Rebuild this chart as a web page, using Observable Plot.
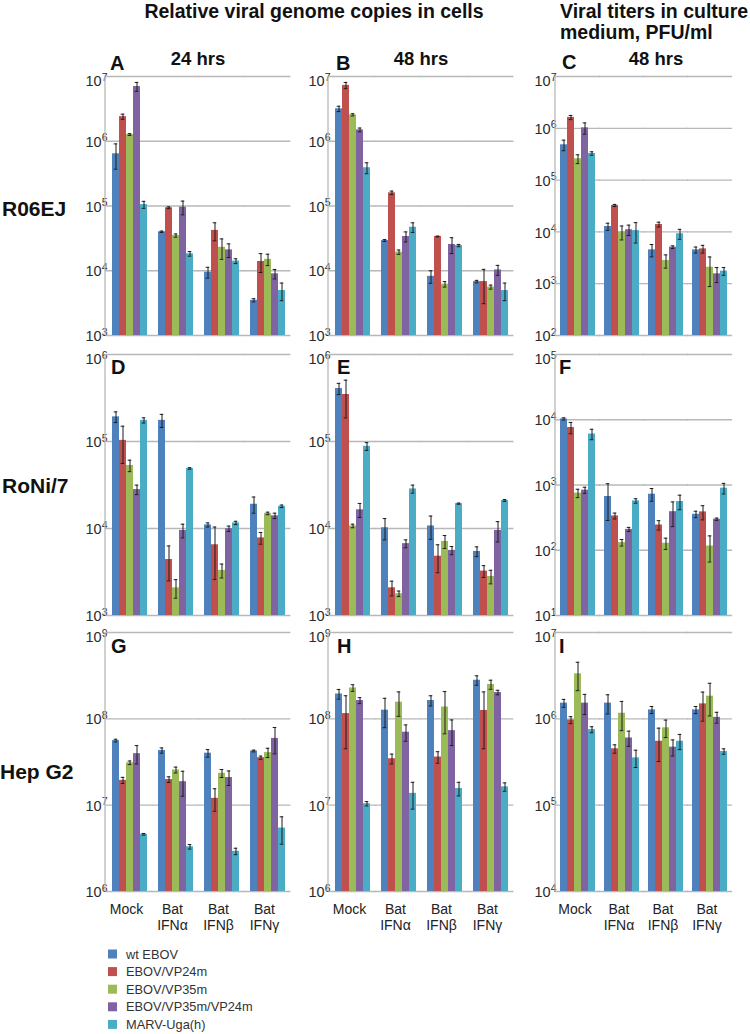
<!DOCTYPE html>
<html>
<head>
<meta charset="utf-8">
<script src="https://cdn.jsdelivr.net/npm/d3@7"></script>
<script src="https://cdn.jsdelivr.net/npm/@observablehq/plot@0.6"></script>
<style>
  body { margin: 0; background: #fff; }
  #root { position: relative; width: 750px; height: 1034px; overflow: hidden; font-family: "Liberation Sans", Arial, sans-serif; }
  #root > svg.anno { position: absolute; left: 0; top: 0; }
  .panel { position: absolute; }
</style>
</head>
<body>
<div id="root"></div>
<script>
// ---------- data ----------
const groups = ["Mock", "Bat IFNα", "Bat IFNβ", "Bat IFNγ"];
const series = ["wt EBOV", "EBOV/VP24m", "EBOV/VP35m", "EBOV/VP35m/VP24m", "MARV-Uga(h)"];
const colors = ["#4F81BD", "#C0504D", "#9BBB59", "#8064A2", "#4BACC6"];
const rowLabels = ["R06EJ", "RoNi/7", "Hep G2"];

// each row of a panel = one group; columns = series order
const valuesA = [[6.4e5, 2.4e6, 1.27e6, 7.0e6, 1.05e5], [4.0e4, 9.4e4, 3.5e4, 9.6e4, 1.83e4], [9.5e3, 4.2e4, 2.3e4, 2.1e4, 1.41e4], [3.5e3, 1.39e4, 1.5e4, 8.97e3, 4.95e3]];
const errorsA = [[2.7e5, 2.2e5, 4e4, 1.1e6, 1.3e4], [1e3, 3e3, 2e3, 2.3e4, 1.5e3], [1.8e3, 1.3e4, 8e3, 5e3, 1.2e3], [2e2, 4.5e3, 3e3, 1.5e3, 1.5e3]];
const valuesB = [[3.17e6, 7.3e6, 2.56e6, 1.5e6, 3.9e5], [2.93e4, 1.6e5, 1.94e4, 3.38e4, 4.7e4], [8.2e3, 3.38e4, 6.2e3, 2.54e4, 2.45e4], [6.8e3, 6.8e3, 5.6e3, 1.03e4, 4.95e3]];
const errorsB = [[3e5, 8e5, 1e5, 1e5, 7.5e4], [1e3, 1e4, 1.5e3, 6e3, 8e3], [1.8e3, 5e2, 6e2, 7e3, 1e3], [3e2, 3.7e3, 4e2, 1.8e3, 1.5e3]];
const valuesC = [[4.8e5, 1.62e6, 2.58e5, 1.02e6, 3.27e5], [1.27e4, 3.24e4, 1.0e4, 1.1e4, 1.06e4], [4.5e3, 1.39e4, 2.8e3, 5.07e3, 9.2e3], [4.5e3, 4.7e3, 2.08e3, 1.55e3, 1.75e3]];
const errorsC = [[1.1e5, 1.5e5, 5e4, 2.5e5, 2.5e4], [2e3, 1.5e3, 3e3, 2.5e3, 4.5e3], [1.2e3, 1.5e3, 8e2, 3e2, 2e3], [6e2, 8e2, 1.2e3, 5e2, 3e2]];
const valuesD = [[1.92e5, 1.03e5, 5.3e4, 2.8e4, 1.75e5], [1.75e5, 4.4e3, 2.08e3, 9.5e3, 4.9e4], [1.1e4, 6.5e3, 3.3e3, 9.95e3, 1.16e4], [1.9e4, 7.8e3, 1.49e4, 1.4e4, 1.8e4]];
const errorsD = [[2.7e4, 4.7e4, 8e3, 3.5e3, 1.2e4], [3e4, 1.9e3, 5e2, 1.7e3, 1e3], [6e2, 3.9e3, 6e2, 7e2, 5e2], [4e3, 1.2e3, 5e2, 1e3, 6e2]];
const valuesE = [[4.06e5, 3.47e5, 1.07e4, 1.64e4, 8.8e4], [1.02e4, 2.08e3, 1.78e3, 6.7e3, 2.85e4], [1.07e4, 4.8e3, 7.1e3, 5.6e3, 1.93e4], [5.45e3, 3.24e3, 2.81e3, 9.5e3, 2.1e4]];
const errorsE = [[6e4, 1.6e5, 5e2, 3e3, 9e3], [2.8e3, 4e2, 1.3e2, 7e2, 3e3], [3.2e3, 1.7e3, 1.2e3, 6e2, 3e2], [7e2, 5e2, 5e2, 2.5e3, 5e2]];
const valuesF = [[1.03e4, 7.6e3, 750, 834, 6.04e3], [666, 336, 131, 209, 571], [723, 244, 128, 390, 558], [356, 387, 116, 299, 894]];
const errorsF = [[4e2, 1.5e3, 110, 90, 1.1e3], [380, 35, 15, 15, 45], [160, 40, 25, 160, 140], [40, 95, 50, 12, 165]];
const valuesG = [[5.6e7, 1.94e7, 3.1e7, 3.95e7, 4.6e6], [4.3e7, 1.98e7, 2.56e7, 1.87e7, 3.3e6], [4.0e7, 1.2e7, 2.34e7, 2.09e7, 2.92e6], [4.24e7, 3.55e7, 4.06e7, 5.93e7, 5.43e6]];
const errorsG = [[2e6, 1.6e6, 1.5e6, 9.5e6, 1e5], [3e6, 1.5e6, 2e6, 6e6, 2e5], [4e6, 3.5e6, 2.5e6, 4e6, 2.5e5], [1e6, 1.5e6, 5e6, 2e7, 1.9e6]];
const valuesH = [[1.94e8, 1.15e8, 2.28e8, 1.63e8, 1.04e7], [1.26e8, 3.45e7, 1.56e8, 7.0e7, 1.37e7], [1.63e8, 3.61e7, 1.37e8, 7.3e7, 1.56e7], [2.8e8, 1.25e8, 2.5e8, 2.02e8, 1.63e7]];
const errorsH = [[2.5e7, 7e7, 2e7, 1.3e7, 6e5], [4.7e7, 4.5e6, 4.9e7, 1.5e7, 4.7e6], [2.2e7, 5.5e6, 7e7, 2.4e7, 2.8e6], [3.5e7, 8e7, 3e7, 1.2e7, 1.8e6]];
const valuesI = [[1.52e6, 9.7e5, 3.32e6, 1.52e6, 7.5e5], [1.52e6, 4.5e5, 1.16e6, 6.0e5, 3.53e5], [1.27e6, 5.5e5, 7.87e5, 4.7e5, 5.5e5], [1.27e6, 1.49e6, 1.83e6, 1.04e6, 4.19e5]];
const errorsI = [[1.6e5, 9e4, 1.2e6, 4e5, 6e4], [3.8e5, 5e4, 4.3e5, 1.2e5, 8e4], [1.2e5, 2.3e5, 1.8e5, 1e5, 1.1e5], [1.2e5, 5.5e5, 7.5e5, 1.5e5, 3e4]];

// y-axis decade ranges (exponents) per panel
const expsA = [3, 7], expsB = [3, 7], expsC = [2, 7];
const expsD = [3, 6], expsE = [3, 6], expsF = [1, 5];
const expsG = [6, 9], expsH = [6, 9], expsI = [4, 7];

// ---------- layout ----------
const FONT = '"Liberation Sans", Arial, sans-serif';
const colX = [105, 328, 555];
const colW = [187, 187, 176];
const rowY = [76, 354, 632];
const rowH = [259, 261, 259];
const GRID = "#b8b8b8";

const panels = [
  {id: "A", vals: valuesA, errs: errorsA, exps: expsA, col: 0, row: 0},
  {id: "B", vals: valuesB, errs: errorsB, exps: expsB, col: 1, row: 0},
  {id: "C", vals: valuesC, errs: errorsC, exps: expsC, col: 2, row: 0},
  {id: "D", vals: valuesD, errs: errorsD, exps: expsD, col: 0, row: 1},
  {id: "E", vals: valuesE, errs: errorsE, exps: expsE, col: 1, row: 1},
  {id: "F", vals: valuesF, errs: errorsF, exps: expsF, col: 2, row: 1},
  {id: "G", vals: valuesG, errs: errorsG, exps: expsG, col: 0, row: 2},
  {id: "H", vals: valuesH, errs: errorsH, exps: expsH, col: 1, row: 2},
  {id: "I", vals: valuesI, errs: errorsI, exps: expsI, col: 2, row: 2}
];

const root = document.getElementById("root");

// annotation layer (titles, letters, row labels, legend)
const anno = d3.select(root).append("svg").attr("class", "anno")
  .attr("width", 750).attr("height", 1034)
  .style("font-family", FONT);

function label(x, y, text, size, weight, anchor = "start", fill = "#111") {
  anno.append("text").attr("x", x).attr("y", y).attr("font-size", size)
    .attr("font-weight", weight).attr("text-anchor", anchor).attr("fill", fill).text(text);
}
label(314, 18, "Relative viral genome copies in cells", 19.5, "bold", "middle");
label(560, 18, "Viral titers in culture", 19.5, "bold");
label(560, 39, "medium, PFU/ml", 19.5, "bold");
label(198, 65, "24 hrs", 18.5, "bold", "middle");
label(421, 65, "48 hrs", 18.5, "bold", "middle");
label(656, 65, "48 hrs", 18.5, "bold", "middle");
const letterPos = {A: [110, 70], B: [336, 70], C: [562, 69], D: [111, 374], E: [337, 374], F: [559, 374], G: [111, 653], H: [337, 653], I: [559, 653]};
for (const [k, [x, y]] of Object.entries(letterPos)) label(x, y, k, 20, "bold");
label(2, 216, rowLabels[0], 21, "bold");
label(2, 493, rowLabels[1], 21, "bold");
label(0, 779, rowLabels[2], 21, "bold");

// legend
series.forEach((s, i) => {
  const cy = 954 + i * 17.6;
  anno.append("rect").attr("x", 108).attr("y", cy - 4.5).attr("width", 9).attr("height", 9).attr("fill", colors[i]);
  anno.append("text").attr("x", 126).attr("y", cy + 4.5).attr("font-size", 12.8).attr("fill", "#333").text(s);
});

// ---------- panels ----------
function drawPanel(p) {
  const W = colW[p.col], H = rowH[p.row];
  const ML = 50, MR = 6, MT = 10, MB = p.row === 2 ? 50 : 8;
  const [lo, hi] = p.exps;
  const ymin = 10 ** lo, ymax = 10 ** hi;
  const ticks = d3.range(lo, hi + 1).map(e => 10 ** e);
  const padIn = 0.21;
  const gap = (W / 4) * padIn;
  const rows = groups.flatMap((g, gi) => series.map((s, si) => ({
    group: g, series: s, value: p.vals[gi][si], err: p.errs[gi][si]
  })));

  const svg = Plot.plot({
    width: ML + W + MR,
    height: MT + H + MB,
    marginLeft: ML, marginRight: MR, marginTop: MT, marginBottom: MB,
    style: {fontFamily: FONT, fontSize: "14px", color: "#333", background: "transparent", overflow: "visible", maxWidth: "none"},
    fx: {domain: groups, paddingInner: padIn, paddingOuter: padIn / 2, axis: null, label: null},
    x: {domain: series, padding: 0, axis: null},
    y: {type: "log", domain: [ymin, ymax], ticks, tickFormat: d => "10^" + Math.round(Math.log10(d)), tickSize: 0, tickPadding: 4, label: null},
    color: {domain: series, range: colors},
    marks: [
      Plot.ruleY(ticks, {y: d => d, stroke: GRID, strokeWidth: 1.3, insetLeft: -gap / 2 - 0.5, insetRight: -gap / 2 - 0.5}),
      Plot.barY(rows, {fx: "group", x: "series", y1: () => ymin, y2: "value", fill: "series"}),
      Plot.ruleX(rows, {fx: "group", x: "series", y1: d => Math.max(d.value - d.err, ymin), y2: d => d.value + d.err, stroke: "#1c1c1c", strokeWidth: 1}),
      Plot.tickY(rows, {fx: "group", x: "series", y: d => d.value + d.err, stroke: "#1c1c1c", strokeWidth: 1, inset: 1.7}),
      Plot.tickY(rows, {fx: "group", x: "series", y: d => Math.max(d.value - d.err, ymin), stroke: "#1c1c1c", strokeWidth: 1, inset: 1.7}),
      p.row === 2 ? Plot.text(groups, {fx: d => d, text: d => d.replace(" ", "\n"), frameAnchor: "bottom", lineAnchor: "top", dy: 11, dx: -3, lineHeight: 1.15, fontSize: 14, fill: "#222"}) : null
    ]
  });

  const s = d3.select(svg);
  // superscript exponents in tick labels
  s.selectAll("text").each(function () {
    const m = /^10\^(\d+)$/.exec(this.textContent);
    if (!m) return;
    const t = d3.select(this);
    t.text(null).style("font-size", "14.5px").attr("fill", "#2a2a2a");
    t.append("tspan").attr("dy", +m[1] === hi ? 5 : 1).text("10");
    t.append("tspan").attr("dy", -5.5).style("font-size", "10.5px").text(m[1]);
  });
  // left axis line
  s.append("line").attr("x1", ML).attr("x2", ML).attr("y1", MT).attr("y2", MT + H)
    .attr("stroke", GRID).attr("stroke-width", 1.3);

  const div = document.createElement("div");
  div.className = "panel";
  div.style.left = (colX[p.col] - ML) + "px";
  div.style.top = (rowY[p.row] - MT) + "px";
  div.appendChild(svg);
  root.appendChild(div);
}
panels.forEach(drawPanel);
</script>
</body>
</html>
